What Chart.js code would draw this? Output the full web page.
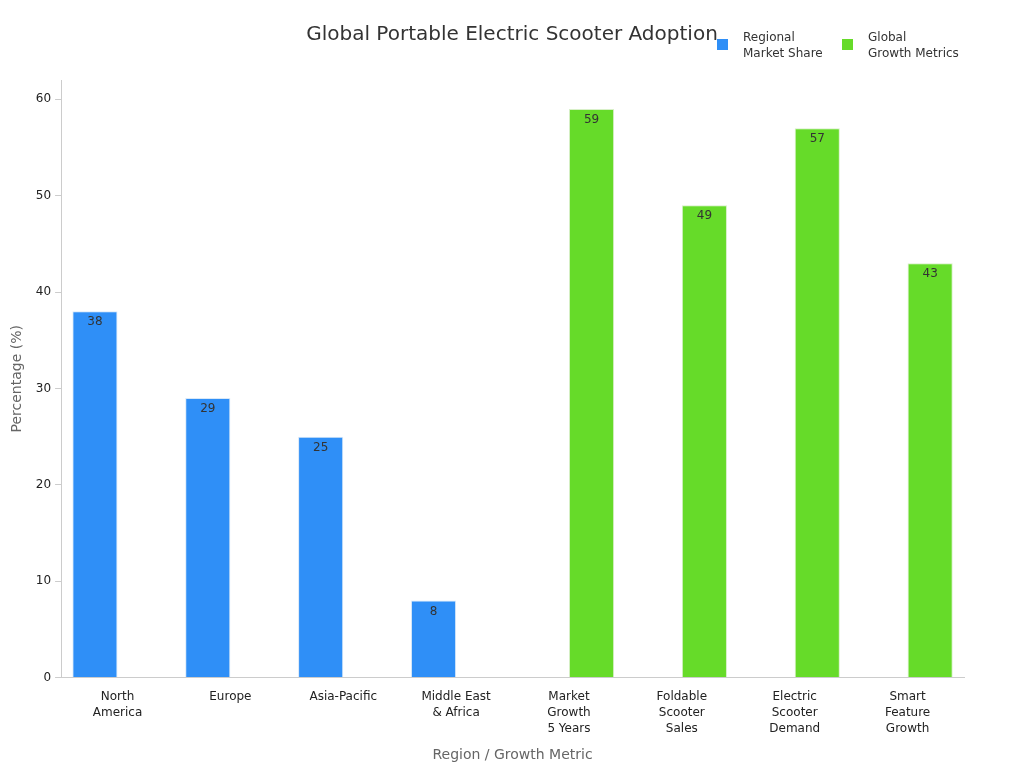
<!DOCTYPE html>
<html>
<head>
<meta charset="utf-8">
<script src="https://cdn.jsdelivr.net/npm/chart.js@4/dist/chart.umd.min.js"></script>
<style>
  html, body { margin: 0; padding: 0; background: #fff; }
  #wrap { width: 1024px; height: 768px; }
</style>
</head>
<body>
<div id="wrap"><canvas id="myChart"></canvas></div>
<script>
// data
const categories = [
  ['North', 'America'], 'Europe', 'Asia-Pacific', ['Middle East', '& Africa'],
  ['Market', 'Growth', '5 Years'], ['Foldable', 'Scooter', 'Sales'],
  ['Electric', 'Scooter', 'Demand'], ['Smart', 'Feature', 'Growth']
];
const regionalShare = [38, 29, 25, 8, null, null, null, null];
const globalGrowth = [null, null, null, null, 59, 49, 57, 43];
const seriesNames = [['Regional', 'Market Share'], ['Global', 'Growth Metrics']];
const seriesColors = ['#2f8ff7', '#66db29'];
const chartTitle = 'Global Portable Electric Scooter Adoption';

// labels inside bar tops
const barLabels = {
  id: 'barLabels',
  afterDatasetsDraw(chart) {
    const ctx = chart.ctx;
    ctx.save();
    ctx.font = '12px "DejaVu Sans"';
    ctx.fillStyle = '#333';
    ctx.textAlign = 'center';
    ctx.textBaseline = 'top';
    chart.data.datasets.forEach((ds, i) => {
      chart.getDatasetMeta(i).data.forEach((bar, j) => {
        if (ds.data[j] == null) return;
        ctx.fillText(ds.data[j], bar.x, bar.y + 5);
      });
    });
    ctx.restore();
  }
};

// title + legend drawn by hand
const topTexts = {
  id: 'topTexts',
  afterDraw(chart) {
    const ctx = chart.ctx;
    ctx.save();
    ctx.font = '20px "DejaVu Sans"';
    ctx.fillStyle = '#333';
    ctx.textAlign = 'center';
    ctx.textBaseline = 'middle';
    ctx.fillText(chartTitle, 512, 35);
    const xs = [717, 842];
    ctx.font = '12px "DejaVu Sans"';
    ctx.textAlign = 'left';
    seriesNames.forEach((name, i) => {
      ctx.fillStyle = seriesColors[i];
      ctx.fillRect(xs[i], 39, 11, 11);
      ctx.fillStyle = '#333';
      ctx.fillText(name[0], xs[i] + 26, 38);
      ctx.fillText(name[1], xs[i] + 26, 54);
    });
    ctx.restore();
  }
};

const config = {
  type: 'bar',
  data: {
    labels: categories,
    datasets: [
      { label: 'Regional Market Share', data: regionalShare, backgroundColor: seriesColors[0], borderColor: '#d8e8f8', borderWidth: 1 },
      { label: 'Global Growth Metrics', data: globalGrowth, backgroundColor: seriesColors[1], borderColor: '#d8f0c8', borderWidth: 1 }
    ]
  },
  options: {
    responsive: false,
    animation: false,
    categoryPercentage: 0.8,
    barPercentage: 1.0,
    layout: { padding: { top: 80, right: 60, left: 5, bottom: 0 } },
    plugins: {
      legend: { display: false },
      tooltip: { enabled: false }
    },
    scales: {
      x: {
        grid: { display: false },
        border: { color: '#ccc' },
        ticks: { color: '#222', font: { family: 'DejaVu Sans', size: 12, lineHeight: 1.35 }, maxRotation: 0, autoSkip: false },
        title: { display: true, text: 'Region / Growth Metric', color: '#666', font: { family: 'DejaVu Sans', size: 14 }, padding: { top: 7 } }
      },
      y: {
        min: 0,
        max: 62,
        grid: { display: true, drawOnChartArea: false, drawTicks: true, tickLength: 6, color: '#ccc' },
        border: { color: '#ccc' },
        ticks: {
          stepSize: 10,
          color: '#222',
          padding: 4,
          font: { family: 'DejaVu Sans', size: 12 },
          callback: v => (v % 10 === 0 ? v : null)
        },
        title: { display: true, text: 'Percentage (%)', color: '#666', font: { family: 'DejaVu Sans', size: 14 }, padding: { bottom: 6 } }
      }
    }
  },
  plugins: [barLabels, topTexts]
};

const canvas = document.getElementById('myChart');
canvas.width = 1024;
canvas.height = 768;
new Chart(canvas, config);
</script>
</body>
</html>
